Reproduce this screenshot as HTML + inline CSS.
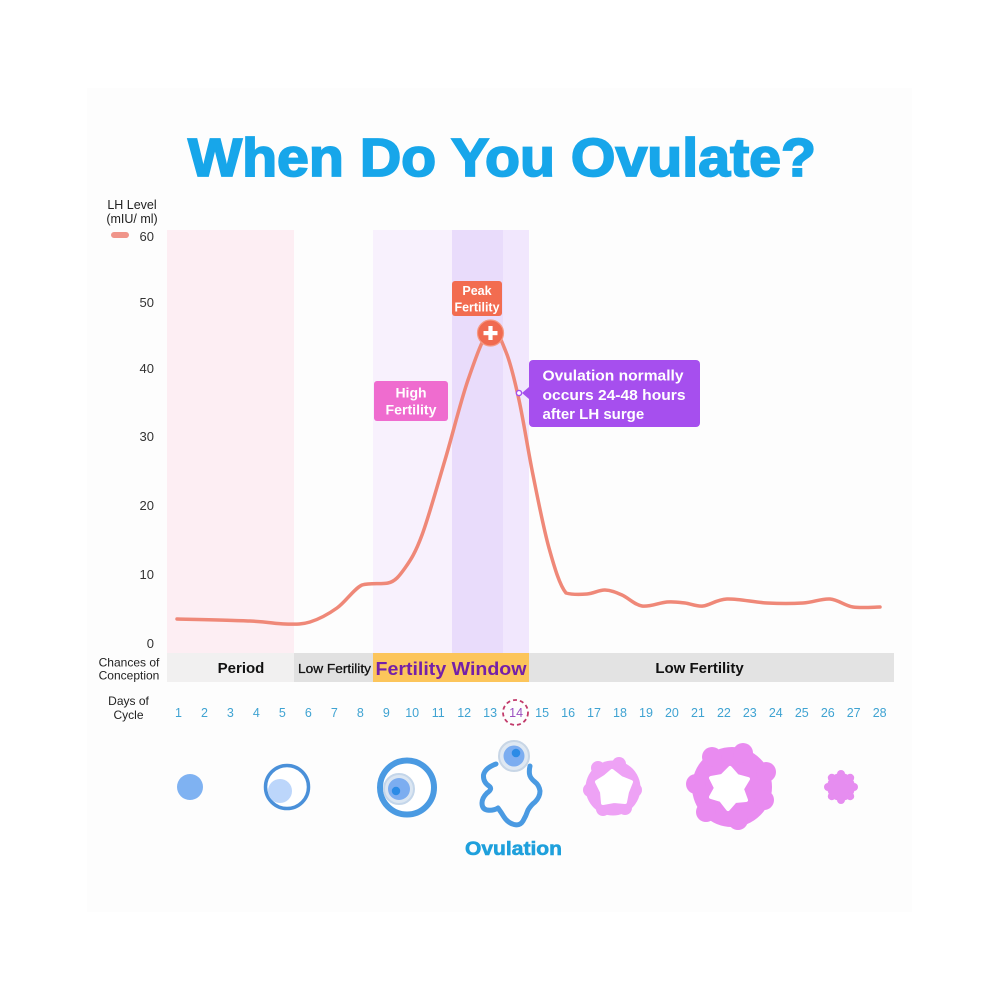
<!DOCTYPE html>
<html>
<head>
<meta charset="utf-8">
<style>
  html,body{margin:0;padding:0;background:#ffffff;}
  svg{display:block;}
  text{font-family:"Liberation Sans", Arial, sans-serif;}
</style>
</head>
<body>
<svg width="1000" height="1000" viewBox="0 0 1000 1000" xmlns="http://www.w3.org/2000/svg">
  <rect x="0" y="0" width="1000" height="1000" fill="#ffffff"/>
  <rect x="87" y="88" width="825" height="824" fill="#fdfdfd"/>

  <!-- Title -->
  <text x="188" y="176" font-size="54" font-weight="bold" fill="#17a6ea" stroke="#17a6ea" stroke-width="1.8" textLength="628" lengthAdjust="spacingAndGlyphs">When Do You Ovulate?</text>

  <!-- Axis title & legend -->
  <text x="132" y="209" font-size="12.5" fill="#222" text-anchor="middle">LH Level</text>
  <text x="132" y="223" font-size="12.5" fill="#222" text-anchor="middle">(mIU/ ml)</text>
  <rect x="111" y="232" width="18" height="6" rx="3" fill="#f0958a"/>

  <!-- Bands -->
  <rect x="167" y="230" width="127" height="423" fill="#fdeef3"/>
  <rect x="373" y="230" width="79" height="423" fill="#f8f1fd"/>
  <rect x="452" y="230" width="51" height="423" fill="#e9dcfb"/>
  <rect x="503" y="230" width="26" height="423" fill="#f1e7fd"/>

  <!-- Y tick labels -->
  <g font-size="13" fill="#333" text-anchor="end">
    <text x="154" y="241">60</text>
    <text x="154" y="307">50</text>
    <text x="154" y="373">40</text>
    <text x="154" y="441">30</text>
    <text x="154" y="510">20</text>
    <text x="154" y="579">10</text>
    <text x="154" y="648">0</text>
  </g>

  <!-- LH curve -->
  <path fill="none" stroke="#ef8878" stroke-width="3.5" stroke-linecap="round" stroke-linejoin="round"
    d="M177,619 C189.2,619.3 232,620.2 250,621
       C268,621.8 275,623.8 285,624
       C295,624.2 301.3,624.7 310,622
       C318.7,619.3 328.3,614.2 337,608
       C345.7,601.8 353.5,589.2 362,585
       C370.5,582.5 380.8,584.5 388,583
       C395.2,581.5 399.3,576 405,568
       C410.7,560 415.3,553 422,535
       C428.7,517 437.3,485.8 445,460
       C452.7,434.2 460.5,401.7 468,380
       C475.5,358.3 483.7,334.7 490,330
       C496.3,325.3 501.2,340.3 506,352
       C510.8,363.7 514.5,379.5 519,400
       C523.5,420.5 528,450.3 533,475
       C538,499.7 543.5,528.3 549,548
       C554.5,567.7 559.7,585.3 566,593
       C573,595 580.5,594.5 587,594
       C593.5,593.5 599.2,589.8 605,590
       C610.8,590.2 615.8,592.3 622,595
       C628.2,597.7 634.5,604.8 642,606
       C649.5,607.2 659.8,602.5 667,602
       C674.2,601.5 679,602.3 685,603
       C691,603.7 696,606.7 703,606
       C710,605.3 716.3,599.5 727,599
       C737.7,598.5 754.3,602.3 767,603
       C779.7,603.7 792.5,603.7 803,603
       C813.5,602.3 821.7,598.3 830,599
       C838.3,599.7 844.7,605.7 853,607
       C861.3,608.3 875.5,607 880,607"/>

  <!-- Peak Fertility -->
  <rect x="452" y="281" width="50" height="35" rx="3" fill="#f26c50"/>
  <text x="477" y="295" font-size="12.5" font-weight="bold" fill="#fff" text-anchor="middle">Peak</text>
  <text x="477" y="311.5" font-size="12.5" font-weight="bold" fill="#fff" text-anchor="middle" textLength="45" lengthAdjust="spacingAndGlyphs">Fertility</text>
  <circle cx="490.5" cy="333" r="13" fill="#f06a50" stroke="#f59a85" stroke-width="1.2"/>
  <rect x="483.5" y="331" width="14" height="4.2" fill="#fff"/>
  <rect x="488.4" y="326" width="4.2" height="14" fill="#fff"/>

  <!-- High Fertility -->
  <rect x="374" y="381" width="74" height="40" rx="3" fill="#ef6ccf"/>
  <text x="411" y="397.5" font-size="14" font-weight="bold" fill="#fff" text-anchor="middle">High</text>
  <text x="411" y="414.5" font-size="14" font-weight="bold" fill="#fff" text-anchor="middle" textLength="51" lengthAdjust="spacingAndGlyphs">Fertility</text>

  <!-- Ovulation note -->
  <polygon points="529,387 522,393 529,399" fill="#a64fee"/>
  <rect x="529" y="360" width="171" height="67" rx="4" fill="#a64fee"/>
  <circle cx="519" cy="393" r="2.6" fill="#fff" stroke="#a64fee" stroke-width="1.4"/>
  <g font-size="15" font-weight="bold" fill="#fff">
    <text x="542.5" y="380.5" textLength="141" lengthAdjust="spacingAndGlyphs">Ovulation normally</text>
    <text x="542.5" y="400" textLength="143" lengthAdjust="spacingAndGlyphs">occurs 24-48 hours</text>
    <text x="542.5" y="419">after LH surge</text>
  </g>

  <!-- Chances of Conception strip -->
  <rect x="167" y="653" width="127" height="29" fill="#f1f0f0"/>
  <rect x="294" y="653" width="79" height="29" fill="#e1e1e1"/>
  <rect x="373" y="653" width="156" height="29" fill="#fcc55b"/>
  <rect x="529" y="653" width="365" height="29" fill="#e3e3e3"/>
  <text x="241" y="673" font-size="15" font-weight="bold" fill="#111" text-anchor="middle">Period</text>
  <text x="298" y="673" font-size="13" fill="#111" textLength="73" lengthAdjust="spacingAndGlyphs" stroke="#111" stroke-width="0.3">Low Fertility</text>
  <text x="375.5" y="675" font-size="18" font-weight="bold" fill="#7420a8" textLength="151" lengthAdjust="spacingAndGlyphs">Fertility Window</text>
  <text x="699.5" y="673" font-size="15" font-weight="bold" fill="#111" text-anchor="middle">Low Fertility</text>

  <text x="129" y="666.5" font-size="12" fill="#222" text-anchor="middle">Chances of</text>
  <text x="129" y="679.5" font-size="12" fill="#222" text-anchor="middle">Conception</text>

  <text x="128.5" y="705" font-size="12" fill="#222" text-anchor="middle">Days of</text>
  <text x="128.5" y="719" font-size="12" fill="#222" text-anchor="middle">Cycle</text>

  <!-- Days -->
  <circle cx="515.5" cy="712.5" r="12.5" fill="none" stroke="#c23b6b" stroke-width="1.8" stroke-dasharray="4 3"/>
  <g font-size="12.5" fill="#3fa3d2" text-anchor="middle">
    <text x="178.5" y="717">1</text>
    <text x="204.5" y="717">2</text>
    <text x="230.4" y="717">3</text>
    <text x="256.4" y="717">4</text>
    <text x="282.4" y="717">5</text>
    <text x="308.4" y="717">6</text>
    <text x="334.3" y="717">7</text>
    <text x="360.3" y="717">8</text>
    <text x="386.3" y="717">9</text>
    <text x="412.2" y="717">10</text>
    <text x="438.2" y="717">11</text>
    <text x="464.2" y="717">12</text>
    <text x="490.1" y="717">13</text>
    <text x="516.1" y="717" fill="#9b4fc0">14</text>
    <text x="542.1" y="717">15</text>
    <text x="568.1" y="717">16</text>
    <text x="594.0" y="717">17</text>
    <text x="620.0" y="717">18</text>
    <text x="646.0" y="717">19</text>
    <text x="671.9" y="717">20</text>
    <text x="697.9" y="717">21</text>
    <text x="723.9" y="717">22</text>
    <text x="749.8" y="717">23</text>
    <text x="775.8" y="717">24</text>
    <text x="801.8" y="717">25</text>
    <text x="827.8" y="717">26</text>
    <text x="853.7" y="717">27</text>
    <text x="879.7" y="717">28</text>
  </g>

  <!-- Cells -->
  <circle cx="190" cy="787" r="13" fill="#7fb2f2"/>

  <circle cx="287" cy="787" r="21.5" fill="#ffffff" stroke="#4a90d9" stroke-width="3.5"/>
  <circle cx="280" cy="791" r="12" fill="#bcd6fb"/>

  <circle cx="407" cy="787.5" r="27" fill="#ffffff" stroke="#4a9ae2" stroke-width="6"/>
  <circle cx="399" cy="789" r="15" fill="#dbe6f2" stroke="#c4d6ea" stroke-width="2"/>
  <circle cx="399" cy="789" r="11" fill="#7cadf0"/>
  <circle cx="396" cy="791" r="4.2" fill="#2b8be6"/>

  <!-- Ovulation cell -->
  <path fill="none" stroke="#4a9ae2" stroke-width="5" stroke-linecap="round" stroke-linejoin="round"
    d="M496,764 Q485,768 483.5,775 Q483,782 489,786 Q493,789 487,793 Q482,798 482,803 Q482,809 487,810 Q493,811 498,808 Q501,812 504,817 Q508,823 514,824.5 Q520,826 523,821 Q526,816 528,810 Q531,805 535,802 Q540,797 540,791 Q539,785 535,782 Q530,778 529.5,774 Q529,770 530,766"/>
  <circle cx="514" cy="756" r="15" fill="#dfe8f2" stroke="#c8d6e6" stroke-width="2"/>
  <circle cx="514" cy="756" r="10.5" fill="#7cadf0"/>
  <circle cx="516" cy="753" r="4.3" fill="#2b8be6"/>
  <text x="513.5" y="855" font-size="19" font-weight="bold" fill="#1fa0dc" text-anchor="middle" stroke="#1fa0dc" stroke-width="0.6" textLength="97" lengthAdjust="spacingAndGlyphs">Ovulation</text>

  <!-- Pink ring 1 -->
  <g fill="#eea2f5">
    <circle cx="613" cy="788" r="27.5"/>
    <circle cx="635" cy="790" r="7"/>
    <circle cx="625" cy="808" r="7"/>
    <circle cx="603" cy="809" r="7"/>
    <circle cx="590" cy="790" r="7"/>
    <circle cx="598" cy="768" r="7"/>
    <circle cx="619" cy="764" r="7"/>
  </g>
  <polygon fill="#ffffff" stroke="#ffffff" stroke-width="4" stroke-linejoin="round"
    points="612,771 621,778 631,782 627,792 625,802 614,801 603,803 602,792 597,782 605,777"/>

  <!-- Pink ring 2 -->
  <g fill="#e98bf0">
    <circle cx="732" cy="787" r="40"/>
    <circle cx="764" cy="800" r="10"/>
    <circle cx="738" cy="820" r="10"/>
    <circle cx="706" cy="812" r="10"/>
    <circle cx="696" cy="784" r="10"/>
    <circle cx="712" cy="757" r="10"/>
    <circle cx="743" cy="753" r="10"/>
    <circle cx="766" cy="772" r="10"/>
  </g>
  <polygon fill="#ffffff" stroke="#ffffff" stroke-width="4" stroke-linejoin="round"
    points="730,768 737,776 748,779 742,789 746,800 735,801 728,809 721,800 711,797 716,788 711,778 722,776"/>

  <!-- Pink blob -->
  <g fill="#e68df0">
    <circle cx="841" cy="787" r="14"/>
    <circle cx="854" cy="787" r="4"/>
    <circle cx="850.2" cy="796.2" r="4"/>
    <circle cx="841" cy="800" r="4"/>
    <circle cx="831.8" cy="796.2" r="4"/>
    <circle cx="828" cy="787" r="4"/>
    <circle cx="831.8" cy="777.8" r="4"/>
    <circle cx="841" cy="774" r="4"/>
    <circle cx="850.2" cy="777.8" r="4"/>
  </g>
</svg>
</body>
</html>
